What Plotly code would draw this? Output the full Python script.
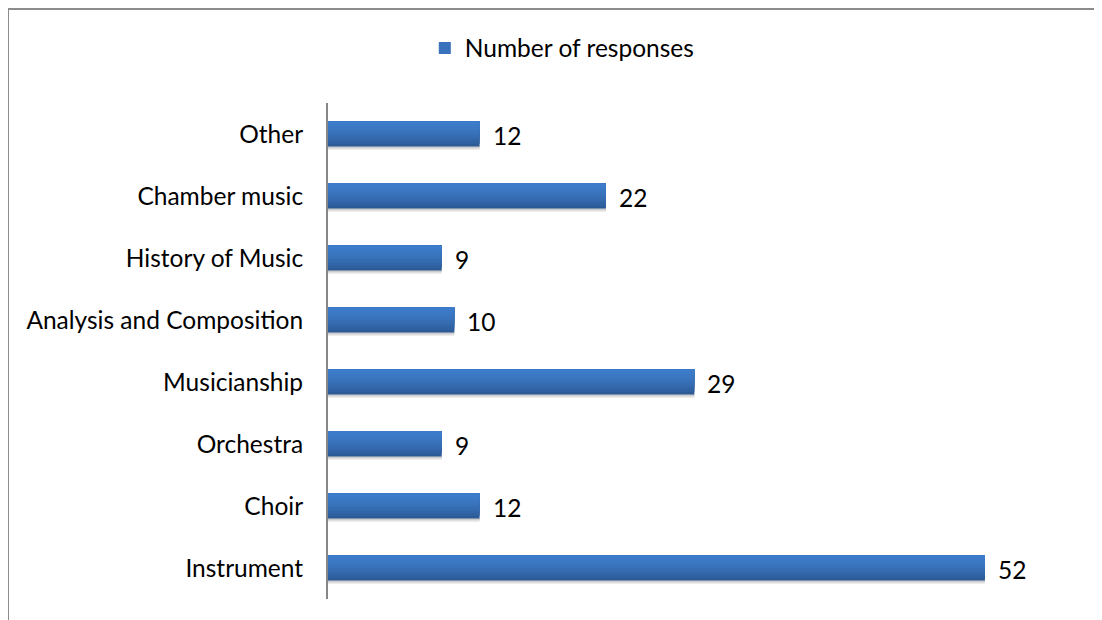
import plotly.graph_objects as go

categories = ["Instrument", "Choir", "Orchestra", "Musicianship",
              "Analysis and Composition", "History of Music", "Chamber music", "Other"]
values = [52, 12, 9, 29, 10, 9, 22, 12]
series_name = "Number of responses"

# figure is placed by the page at (8, 8); sizes chosen so it fits the window
W, H = 1094, 612
L, R, T, B = 320, 16, 95, 21
pw, ph = W - L - R, H - T - B

def px_x(p):
    return (p - L) / pw

def px_y(p):
    return (H - B - p) / ph

FONT = "Lato"
FS = 24.5
BAR_W = 0.405
# vertical gradient, bottom -> top
grad = ["#2c5a97", "#2f609f", "#3265a7", "#346aae", "#366eb4",
        "#3872ba", "#3a75bf", "#3b78c3", "#3c7ac7", "#3d7cca"]
shadow = ["#ececec", "#dcdcdc", "#cccccc"]

fig = go.Figure()
n = len(grad)
s = BAR_W / n
sh = 0.018
for j, c in enumerate(shadow):
    fig.add_trace(go.Bar(
        y=categories, x=values, orientation="h", showlegend=False,
        marker=dict(color=c, line=dict(width=0)),
        width=sh * (len(shadow) - j) + 0.01, offset=-BAR_W / 2 - sh * (len(shadow) - j),
        hoverinfo="skip",
    ))
for i, c in enumerate(grad):
    fig.add_trace(go.Bar(
        y=categories, x=values, orientation="h", name=series_name,
        marker=dict(color=c, line=dict(width=0)),
        width=(BAR_W - i * s), offset=-BAR_W / 2 + i * s,
        showlegend=(i == 5), legendrank=1,
    ))
for c, v in zip(categories, values):
    fig.add_annotation(x=v, y=c, text=str(v), showarrow=False,
                       xanchor="left", xshift=11, yshift=-1,
                       font=dict(family=FONT, size=FS, color="#000000"))

fig.update_layout(
    width=W, height=H,
    margin=dict(l=L, r=R, t=T, b=B),
    paper_bgcolor="white", plot_bgcolor="white",
    font=dict(family=FONT, size=FS, color="#000000"),
    showlegend=True, barmode="overlay",
    legend=dict(orientation="h", x=0.381, xref="container", xanchor="left",
                y=1 - 40 / H, yref="container", yanchor="middle",
                font=dict(family=FONT, size=FS), itemwidth=30,
                bgcolor="rgba(0,0,0,0)"),
    xaxis=dict(range=[0, 60], visible=False, showgrid=False, zeroline=False),
    yaxis=dict(categoryorder="array", categoryarray=categories,
               range=[-0.5, len(categories) - 0.5],
               showline=True, linecolor="#878787", linewidth=2,
               ticks="", showgrid=False, zeroline=False,
               ticklabelstandoff=18,
               tickfont=dict(family=FONT, size=FS, color="#000000")),
    shapes=[
        dict(type="line", xref="paper", yref="paper",
             x0=px_x(0), x1=px_x(W + 10), y0=px_y(1), y1=px_y(1),
             line=dict(color="#8c8c8c", width=2)),
        dict(type="line", xref="paper", yref="paper",
             x0=px_x(0), x1=px_x(0), y0=px_y(1), y1=px_y(H + 10),
             line=dict(color="#8c8c8c", width=2)),
    ],
)
fig.write_html("out.html")
